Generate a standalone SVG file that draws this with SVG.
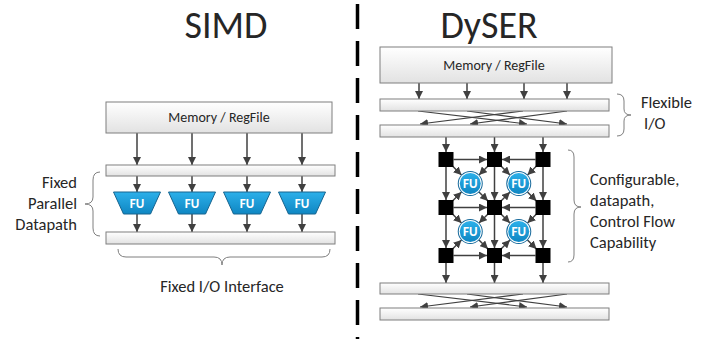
<svg xmlns="http://www.w3.org/2000/svg" width="716" height="339" viewBox="0 0 716 339">
<style>
.t{font-family:Carlito,Lato,"Liberation Sans",sans-serif;fill:#262626}
.title{font-size:38px}
.lbl{font-size:16.5px}
.mem{font-size:14px}
.box{fill:url(#gBox);stroke:#7f7f7f;stroke-width:1}
.fu{fill:url(#gFU);stroke:#16648f;stroke-width:1}
.fut{font-family:Carlito,Lato,"Liberation Sans",sans-serif;font-weight:bold;font-size:13px;fill:#fff;text-anchor:middle}
.c{stroke:#404040;stroke-width:1.5;fill:none;marker-end:url(#a)}
.cl{stroke:#404040;stroke-width:1.2;fill:none;marker-end:url(#a)}
.br{stroke:#7f7f7f;stroke-width:1;fill:none}
.sq{fill:#000}
</style>
<defs>
<linearGradient id="gBox" x1="0" y1="0" x2="0" y2="1"><stop offset="0" stop-color="#ffffff"/><stop offset="1" stop-color="#e2e2e2"/></linearGradient>
<linearGradient id="gFU" x1="0" y1="0" x2="0" y2="1"><stop offset="0" stop-color="#2cb0ea"/><stop offset="1" stop-color="#0f86c2"/></linearGradient>
<marker id="a" viewBox="0 0 10 10" refX="10" refY="5" markerWidth="8" markerHeight="8" markerUnits="userSpaceOnUse" orient="auto"><path d="M0,0 L10,5 L0,10 z" fill="#404040"/></marker>
<g id="fuc"><circle r="12.5" fill="#15689a"/><circle r="11.5" fill="#fff"/><circle r="10.5" fill="url(#gFU)"/></g>
</defs>
<rect width="716" height="339" fill="#fff"/>
<line x1="357.5" y1="4" x2="357.5" y2="339" stroke="#000" stroke-width="3.5" stroke-dasharray="25 12"/>
<text class="t title" x="226" y="38" text-anchor="middle">SIMD</text>
<text class="t title" x="489" y="38" text-anchor="middle">DySER</text>

<g id="connectors">
<!-- SIMD -->
<line class="c" x1="137" y1="133" x2="137" y2="165"/><line class="c" x1="192" y1="133" x2="192" y2="165"/><line class="c" x1="247" y1="133" x2="247" y2="165"/><line class="c" x1="302" y1="133" x2="302" y2="165"/>
<line class="c" x1="137" y1="176" x2="137" y2="192"/><line class="c" x1="192" y1="176" x2="192" y2="192"/><line class="c" x1="247" y1="176" x2="247" y2="192"/><line class="c" x1="302" y1="176" x2="302" y2="192"/>
<line class="c" x1="137" y1="214" x2="137" y2="232"/><line class="c" x1="192" y1="214" x2="192" y2="232"/><line class="c" x1="247" y1="214" x2="247" y2="232"/><line class="c" x1="302" y1="214" x2="302" y2="232"/>
<!-- DySER top -->
<line class="c" x1="419" y1="83" x2="419" y2="99"/><line class="c" x1="467" y1="83" x2="467" y2="99"/><line class="c" x1="524" y1="83" x2="524" y2="99"/><line class="c" x1="567" y1="83" x2="567" y2="99"/>
<line class="cl" x1="418" y1="111" x2="527" y2="124"/>
<line class="cl" x1="467" y1="111" x2="567" y2="124"/>
<line class="cl" x1="523" y1="111" x2="420" y2="124"/>
<line class="cl" x1="567" y1="111" x2="470" y2="124"/>
<line class="c" x1="446" y1="137" x2="446" y2="152"/><line class="c" x1="494.5" y1="137" x2="494.5" y2="152"/><line class="c" x1="543" y1="137" x2="543" y2="152"/>
<!-- grid horizontal -->
<line class="c" x1="453.5" y1="159.5" x2="487" y2="159.5"/><line class="c" x1="535.5" y1="159.5" x2="502" y2="159.5"/>
<line class="c" x1="453.5" y1="207.5" x2="487" y2="207.5"/><line class="c" x1="535.5" y1="207.5" x2="502" y2="207.5"/>
<line class="c" x1="453.5" y1="255.5" x2="487" y2="255.5"/><line class="c" x1="535.5" y1="255.5" x2="502" y2="255.5"/>
<!-- grid vertical -->
<line class="c" x1="446" y1="167" x2="446" y2="200"/><line class="c" x1="494.5" y1="167" x2="494.5" y2="200"/><line class="c" x1="543" y1="167" x2="543" y2="200"/>
<line class="c" x1="446" y1="215" x2="446" y2="248"/><line class="c" x1="494.5" y1="215" x2="494.5" y2="248"/><line class="c" x1="543" y1="215" x2="543" y2="248"/>
<!-- diagonals FU1 -->
<line class="c" x1="452" y1="165.5" x2="461.5" y2="175"/><line class="c" x1="488.5" y1="165.5" x2="479" y2="175"/>
<line class="c" x1="452" y1="201.5" x2="461.5" y2="192"/><line class="c" x1="479" y1="192" x2="488" y2="201"/>
<!-- FU2 -->
<line class="c" x1="500.5" y1="165.5" x2="510" y2="175"/><line class="c" x1="537" y1="165.5" x2="527.5" y2="175"/>
<line class="c" x1="500.5" y1="201.5" x2="510" y2="192"/><line class="c" x1="527.5" y1="192" x2="536.5" y2="201"/>
<!-- FU3 -->
<line class="c" x1="452" y1="213.5" x2="461.5" y2="223"/><line class="c" x1="488.5" y1="213.5" x2="479" y2="223"/>
<line class="c" x1="452" y1="249.5" x2="461.5" y2="240"/><line class="c" x1="479" y1="240" x2="488" y2="249"/>
<!-- FU4 -->
<line class="c" x1="500.5" y1="213.5" x2="510" y2="223"/><line class="c" x1="537" y1="213.5" x2="527.5" y2="223"/>
<line class="c" x1="500.5" y1="249.5" x2="510" y2="240"/><line class="c" x1="527.5" y1="240" x2="536.5" y2="249"/>
<!-- DySER bottom -->
<line class="c" x1="446" y1="263" x2="446" y2="283"/><line class="c" x1="494.5" y1="263" x2="494.5" y2="283"/><line class="c" x1="543" y1="263" x2="543" y2="283"/>
<line class="cl" x1="418" y1="294" x2="527" y2="307"/>
<line class="cl" x1="467" y1="294" x2="567" y2="307"/>
<line class="cl" x1="523" y1="294" x2="420" y2="307"/>
<line class="cl" x1="567" y1="294" x2="470" y2="307"/>
</g>

<g id="simd-mem"><rect class="box" x="106" y="102" width="226" height="31"/><text class="t mem" x="219" y="122" text-anchor="middle">Memory / RegFile</text></g>
<g id="simd-bar1"><rect class="box" x="106" y="165" width="229" height="11"/></g>
<g id="simd-fu1"><polygon class="fu" points="113.5,192 160.5,192 150.5,214 123.5,214"/><text class="fut" x="137" y="208">FU</text></g>
<g id="simd-fu2"><polygon class="fu" points="168.5,192 215.5,192 205.5,214 178.5,214"/><text class="fut" x="192" y="208">FU</text></g>
<g id="simd-fu3"><polygon class="fu" points="223.5,192 270.5,192 260.5,214 233.5,214"/><text class="fut" x="247" y="208">FU</text></g>
<g id="simd-fu4"><polygon class="fu" points="278.5,192 325.5,192 315.5,214 288.5,214"/><text class="fut" x="302" y="208">FU</text></g>
<g id="simd-bar2"><rect class="box" x="106" y="232" width="229" height="12"/></g>
<g id="simd-brace-left"><path class="br" d="M100,172Q93,172 93,180L93,197Q93,204 85,204Q93,204 93,211L93,228Q93,236 100,236"/>
<text class="t lbl" x="77" y="188" text-anchor="end">Fixed</text><text class="t lbl" x="77" y="209" text-anchor="end">Parallel</text><text class="t lbl" x="77" y="230" text-anchor="end">Datapath</text></g>
<g id="simd-brace-bottom"><path class="br" d="M118,249Q118,257 126,257L214,257Q222,257 222,265Q222,257 230,257L322,257Q330,257 330,249"/>
<text class="t lbl" x="222" y="292" text-anchor="middle">Fixed I/O Interface</text></g>

<g id="dyser-mem"><rect class="box" x="380" y="47" width="232" height="36"/><text class="t mem" x="494" y="70" text-anchor="middle">Memory / RegFile</text></g>
<g id="dyser-bar1"><rect class="box" x="380" y="99" width="229" height="12"/></g>
<g id="dyser-bar2"><rect class="box" x="380" y="125" width="229" height="12"/></g>
<g id="dyser-brace-io"><path class="br" d="M617,94Q624,94 624,101L624,109Q624,115 631,115Q624,115 624,121L624,129Q624,136 617,136"/>
<text class="t lbl" x="641" y="108">Flexible</text><text class="t lbl" x="644" y="129">I/O</text></g>
<g id="dyser-sw">
<rect class="sq" x="438.5" y="152" width="15" height="15"/><rect class="sq" x="487" y="152" width="15" height="15"/><rect class="sq" x="535.5" y="152" width="15" height="15"/>
<rect class="sq" x="438.5" y="200" width="15" height="15"/><rect class="sq" x="487" y="200" width="15" height="15"/><rect class="sq" x="535.5" y="200" width="15" height="15"/>
<rect class="sq" x="438.5" y="248" width="15" height="15"/><rect class="sq" x="487" y="248" width="15" height="15"/><rect class="sq" x="535.5" y="248" width="15" height="15"/>
</g>
<g id="dyser-fu1"><use href="#fuc" x="470.25" y="183.5"/><text class="fut" x="470.25" y="188">FU</text></g>
<g id="dyser-fu2"><use href="#fuc" x="518.75" y="183.5"/><text class="fut" x="518.75" y="188">FU</text></g>
<g id="dyser-fu3"><use href="#fuc" x="470.25" y="231.5"/><text class="fut" x="470.25" y="236">FU</text></g>
<g id="dyser-fu4"><use href="#fuc" x="518.75" y="231.5"/><text class="fut" x="518.75" y="236">FU</text></g>
<g id="dyser-brace-grid"><path class="br" d="M568,150Q574,150 574,157L574,200Q574,207 581,207Q574,207 574,214L574,255Q574,262 568,262"/>
<text class="t lbl" x="590" y="185">Configurable,</text><text class="t lbl" x="590" y="206">datapath,</text><text class="t lbl" x="590" y="227">Control Flow</text><text class="t lbl" x="590" y="248">Capability</text></g>
<g id="dyser-bar3"><rect class="box" x="380" y="283" width="229" height="11"/></g>
<g id="dyser-bar4"><rect class="box" x="380" y="308" width="229" height="12"/></g>
</svg>
